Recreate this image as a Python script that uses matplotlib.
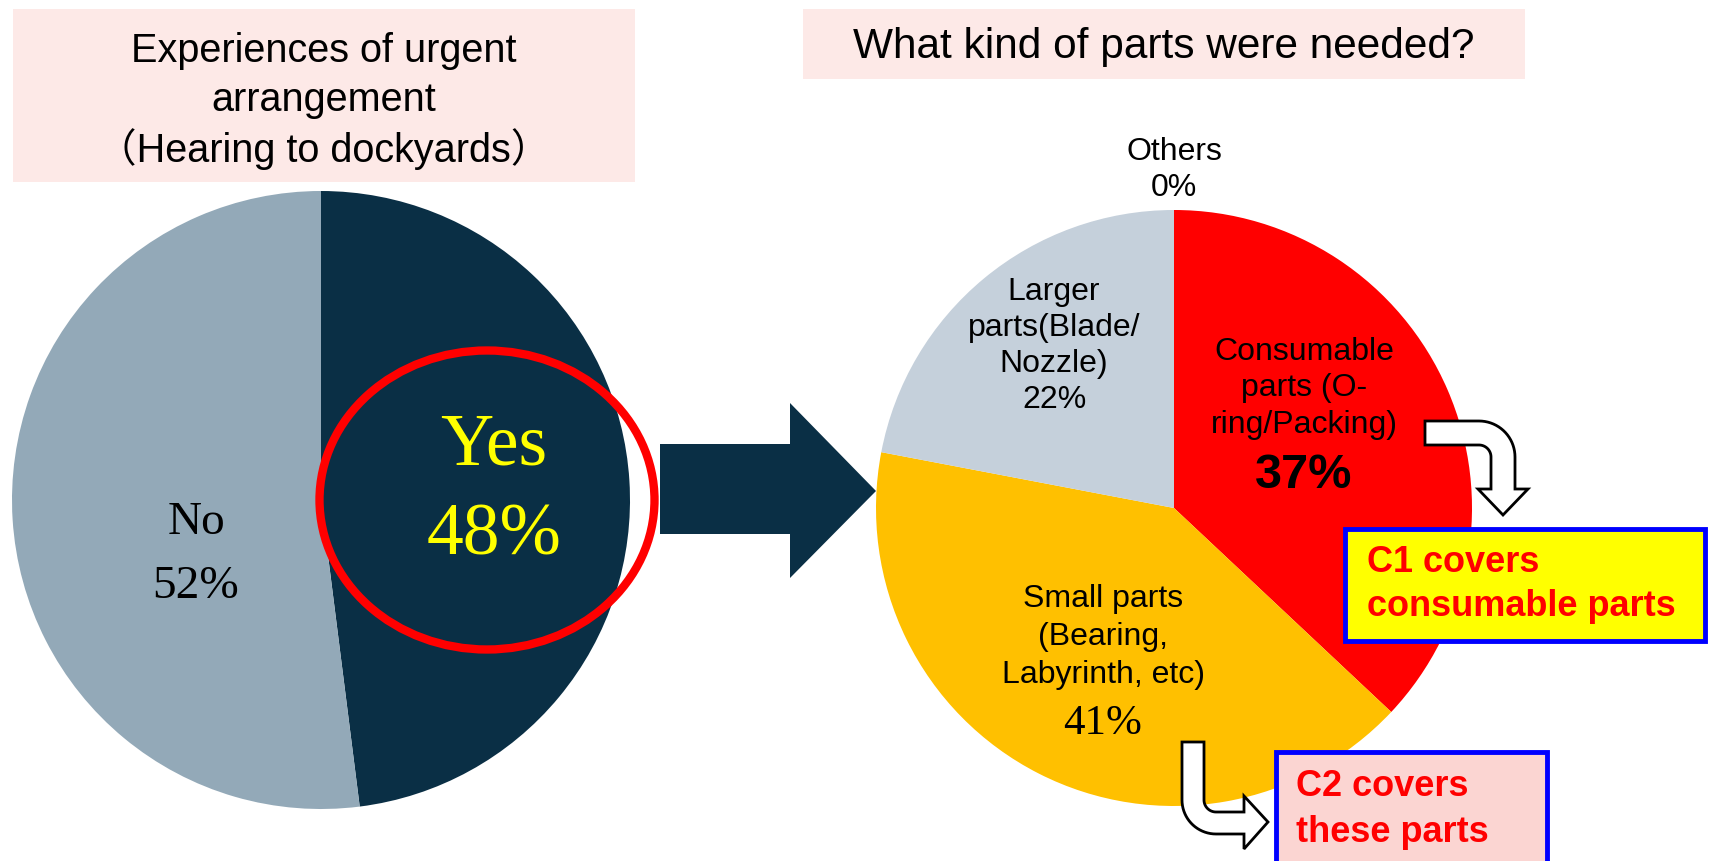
import matplotlib
matplotlib.use("Agg")
import matplotlib.pyplot as plt
from matplotlib.patches import Ellipse, Rectangle, Polygon
import numpy as np

# data
left_labels = ["Yes", "No"]
left_values = [48, 52]
left_colors = ["#0A2F45", "#93A9B8"]

right_labels = ["Consumable\nparts (O-\nring/Packing)", "Small parts\n(Bearing,\nLabyrinth, etc)",
                "Larger\nparts(Blade/\nNozzle)", "Others"]
right_values = [37, 41, 22, 0]
right_colors = ["#FF0000", "#FFC000", "#C5D0DB", "#A0A0A0"]

W, H = 1710, 861
SANS = ["Liberation Sans", "Noto Sans CJK JP", "DejaVu Sans"]
SERIF = ["Liberation Serif", "DejaVu Serif"]

fig = plt.figure(figsize=(W / 100, H / 100), dpi=100)
ax = fig.add_axes([0, 0, 1, 1])

# pies (y axis is inverted, so counterclock=True / startangle=-90 looks clockwise from top)
ax.pie(left_values, colors=left_colors, startangle=-90, counterclock=True,
       center=(321, 500), radius=309, wedgeprops=dict(linewidth=0))
ax.pie(right_values, colors=right_colors, startangle=-90, counterclock=True,
       center=(1174, 508), radius=298, wedgeprops=dict(linewidth=0))
ax.set_xlim(0, W)
ax.set_ylim(H, 0)
ax.set_aspect("auto")
ax.axis("off")

# title boxes
ax.add_patch(Rectangle((13, 9), 622, 173, facecolor="#FDE9E7", edgecolor="none"))
ax.add_patch(Rectangle((803, 9), 722, 70, facecolor="#FDE9E7", edgecolor="none"))
for y, s in zip([51, 100, 149], ["Experiences of urgent", "arrangement", "（Hearing to dockyards）"]):
    ax.text(324, y, s, ha="center", va="center", fontsize=28.5, family=SANS)
ax.text(1164, 47, "What kind of parts were needed?", ha="center", va="center",
        fontsize=30.5, family=SANS)

# left pie labels
ax.add_patch(Ellipse((487, 500), 335, 299, facecolor="none", edgecolor="#FF0000", linewidth=6))
ax.text(494, 447, left_labels[0], ha="center", va="center", fontsize=53, color="#FFFF00", family=SERIF)
ax.text(494, 537, f"{left_values[0]}%", ha="center", va="center", fontsize=53, color="#FFFF00", family=SERIF)
ax.text(196, 523, left_labels[1], ha="center", va="center", fontsize=34, family=SERIF)
ax.text(196, 587, f"{left_values[1]}%", ha="center", va="center", fontsize=34, family=SERIF)

# big arrow
ax.add_patch(Polygon([(660, 444), (790, 444), (790, 403), (876, 491), (790, 578), (790, 534), (660, 534)],
                     closed=True, facecolor="#0A2F45", edgecolor="none"))

# right pie labels
ax.text(1174, 152, right_labels[3], ha="center", va="center", fontsize=23, family=SANS)
ax.text(1174, 188, f"{right_values[3]}%", ha="center", va="center", fontsize=23, family=SANS)

for y, s in zip([292, 328, 364], right_labels[2].split("\n")):
    ax.text(1054, y, s, ha="center", va="center", fontsize=23, family=SANS)
ax.text(1054, 400, f"{right_values[2]}%", ha="center", va="center", fontsize=23, family=SANS)

for y, s in zip([352, 388, 425], right_labels[0].split("\n")):
    ax.text(1304, y, s, ha="center", va="center", fontsize=23, family=SANS)
ax.text(1304, 476, f"{right_values[0]}%", ha="center", va="center", fontsize=35,
        fontweight="bold", family=SANS)

for y, s in zip([599, 637, 675], right_labels[1].split("\n")):
    ax.text(1103, y, s, ha="center", va="center", fontsize=23, family=SANS)
ax.text(1103, 724, f"{right_values[1]}%", ha="center", va="center", fontsize=31, family=SERIF)


def arc(cx, cy, r, a0, a1, n=20):
    t = np.radians(np.linspace(a0, a1, n))
    return list(zip(cx + r * np.cos(t), cy + r * np.sin(t)))


# bent arrow 1: right then down
pts = [(1425, 421)] + arc(1479, 457, 36, -90, 0) + [(1515, 489), (1528, 489), (1503, 515),
       (1478, 489), (1491, 489)] + arc(1479, 457, 12, 0, -90) + [(1425, 445)]
ax.add_patch(Polygon(pts, closed=True, facecolor="white", edgecolor="black", linewidth=2))

# bent arrow 2: down then right
pts = [(1182, 742), (1204, 742)] + arc(1216, 800, 12, 180, 90) + [(1244, 812), (1244, 796),
       (1268, 822), (1244, 849), (1244, 834)] + arc(1216, 800, 34, 90, 180)
ax.add_patch(Polygon(pts, closed=True, facecolor="white", edgecolor="black", linewidth=2))

# callout boxes
ax.add_patch(Rectangle((1345, 529), 360, 112, facecolor="#FFFF00", edgecolor="#0000FF", linewidth=3.5))
ax.text(1367, 563, "C1 covers", ha="left", va="center", fontsize=26, fontweight="bold",
        color="#FF0000", family=SANS)
ax.text(1367, 607, "consumable parts", ha="left", va="center", fontsize=26, fontweight="bold",
        color="#FF0000", family=SANS)

ax.add_patch(Rectangle((1276, 752), 271, 130, facecolor="#FBD5D2", edgecolor="#0000FF", linewidth=3.5))
ax.text(1296, 787, "C2 covers", ha="left", va="center", fontsize=26, fontweight="bold",
        color="#FF0000", family=SANS)
ax.text(1296, 832, "these parts", ha="left", va="center", fontsize=26, fontweight="bold",
        color="#FF0000", family=SANS)

fig.savefig("out.png", dpi=100)
